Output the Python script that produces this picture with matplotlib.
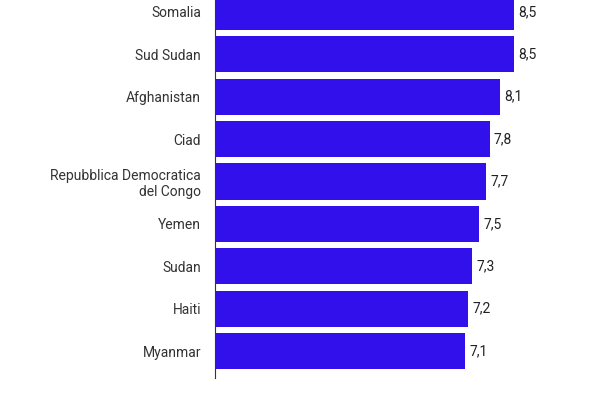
import matplotlib
matplotlib.use("Agg")
import matplotlib.pyplot as plt

countries = ["Somalia", "Sud Sudan", "Afghanistan", "Ciad",
             "Repubblica Democratica\ndel Congo", "Yemen", "Sudan", "Haiti", "Myanmar"]
values = [8.5, 8.5, 8.1, 7.8, 7.7, 7.5, 7.3, 7.2, 7.1]

plt.rcParams['font.family'] = ['Roboto', 'DejaVu Sans']
fig = plt.figure(figsize=(6, 4), dpi=100)
ax = fig.add_axes([215/600, 22/400, 352/600, 378/400])
n = len(countries)
ypos = [n - 1 - i for i in range(n)]
ax.barh(ypos, values, height=0.85, color="#3210ec")
for y, v in zip(ypos, values):
    ax.text(v + 0.12, y, f"{v:.1f}".replace(".", ","), va="center", ha="left",
            fontsize=10, color="#222222")
ax.set_yticks(ypos)
ax.set_yticklabels(countries, fontsize=10, color="#333333", ha="right")
ax.tick_params(axis="y", length=0, pad=10)
ax.set_xlim(0, 10)
ax.set_ylim(-0.637, 8.283)
ax.set_xticks([])
for s in ["top", "right", "bottom"]:
    ax.spines[s].set_visible(False)
ax.spines["left"].set_color("#333333")
ax.spines["left"].set_linewidth(0.8)
fig.savefig("out.png", dpi=100)
